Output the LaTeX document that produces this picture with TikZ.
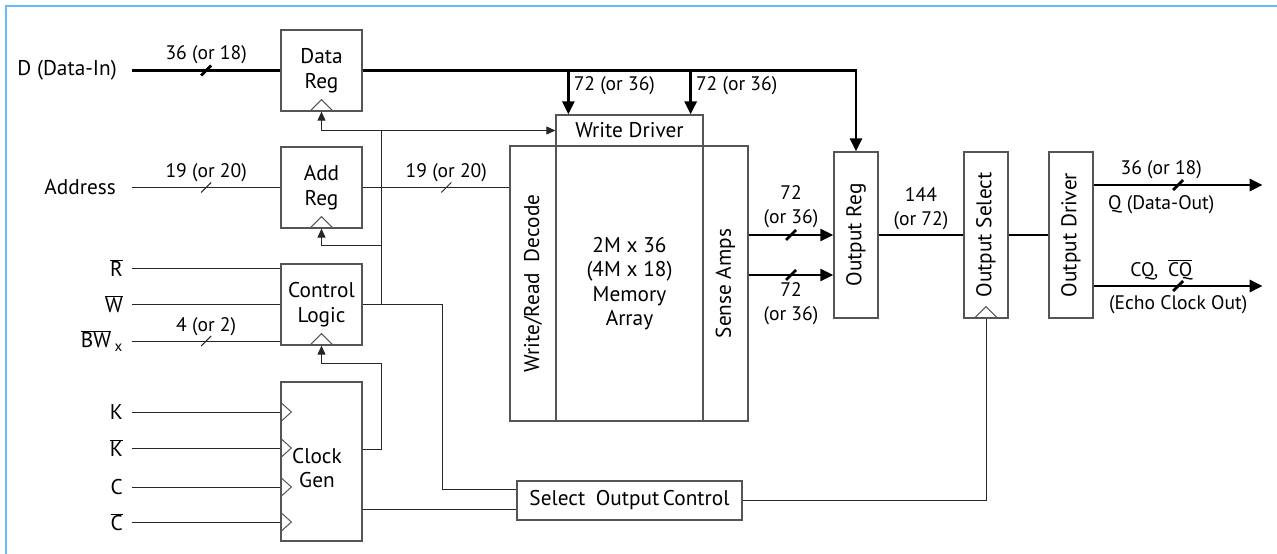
\documentclass[tikz,border=0pt]{standalone}
\usepackage{fontspec}
\setmainfont{PT Sans}
\usepackage{xcolor}
\usepackage{graphicx}
\usetikzlibrary{arrows.meta,decorations.markings}

\definecolor{frameblue}{RGB}{102,187,250}
\definecolor{boxgray}{RGB}{85,85,85}

\newcommand{\ovl}[1]{$\overline{\hbox{#1}}$}

\tikzset{
  blk/.style={draw=boxgray, line width=1.3pt, inner sep=0pt, align=center, font=\fontsize{21.3}{24.5}\selectfont},
  regbox/.style={blk, minimum width=81pt, minimum height=81pt},
  tallbox/.style={blk, minimum width=44pt, minimum height=166pt},
  wire/.style={line width=1pt, draw=black!85},
  bus/.style={line width=2.8pt},
  tip/.style={-{Triangle[length=13pt,width=12pt]}},
  smalltip/.style={-{Triangle[length=9pt,width=8pt]}},
  buswidth/.style={postaction={decorate, decoration={markings, mark=at position #1 with {\draw[-] (-5,5) -- (5,-5);}}}},
  buswidth/.default=0.5,
  wlbl/.style={font=\fontsize{19.6}{24}\selectfont, inner sep=1pt, align=center},
  inlbl/.style={font=\fontsize{21.3}{24}\selectfont, anchor=east, inner sep=0pt}
}

\begin{document}
\begin{tikzpicture}[x=1pt, y=-1pt]
\useasboundingbox (0,0) rectangle (1277,554);
\draw[frameblue, line width=2.5pt] (6,554) -- (6,6) -- (1277,6);

\node[regbox] (dreg) at (321.5,70.5) {Data\\Reg};
\node[regbox] (areg) at (321.5,187.5) {Add\\Reg};
\node[regbox] (ctrl) at (321.5,304.5) {Control\\Logic};
\node[regbox, minimum height=159pt] (cgen) at (321.5,461.5) {};
\node[blk, draw=none] (cgentxt) at (317,468) {Clock\\Gen};

\node[blk, minimum width=147pt, minimum height=31pt] (wdrv) at (629.5,130.5) {Write Driver};
\node[blk, minimum width=46pt, minimum height=275pt] (dec) at (533,283.5) {\rotatebox{90}{Write/Read\enspace Decode}};
\node[blk, minimum width=147pt, minimum height=275pt] (arr) at (629.5,283.5) {2M x 36\\(4M x 18)\\Memory\\Array};
\node[blk, minimum width=45pt, minimum height=275pt] (sense) at (725.5,283.5) {\rotatebox{90}{Sense Amps}};

\node[tallbox] (oreg) at (856,235) {\rotatebox{90}{Output Reg}};
\node[tallbox] (osel) at (986,235) {\rotatebox{90}{Output Select}};
\node[tallbox] (odrv) at (1071,235) {\rotatebox{90}{Output Driver}};
\node[blk, minimum width=225pt, minimum height=39pt] (selc) at (629.5,500.5) {Select\enspace Output\,Control};

\foreach \r in {dreg,areg,ctrl,osel}
  \draw[boxgray, line width=1pt] ([xshift=-12pt]\r.south) -- ([yshift=12pt]\r.south) -- ([xshift=12pt]\r.south);

% data in and write path
\coordinate (din) at (132,70.5);
\node[inlbl] (ldin) at ([xshift=-15pt]din) {D (Data-In)};
\draw[bus, buswidth] (din) -- (din -| dreg.west) node[wlbl, midway, above=4pt] {36 (or 18)};
\draw[bus, tip] (dreg.east) -| (oreg.north);
\coordinate (wd1) at ([xshift=13pt]wdrv.north west);
\coordinate (wd2) at ([xshift=-13pt]wdrv.north east);
\draw[bus, tip] (wd1 |- dreg.east) -- (wd1) node[wlbl, pos=0.35, anchor=west, xshift=3pt] {72 (or 36)};
\draw[bus, tip] (wd2 |- dreg.east) -- (wd2) node[wlbl, pos=0.35, anchor=west, xshift=3pt] {72 (or 36)};

% address
\coordinate (ain) at (132,187.5);
\node[inlbl] (lain) at ([xshift=-16pt]ain) {Address};
\draw[wire, buswidth] (ain) -- (ain -| areg.west) node[wlbl, midway, above=4pt] {19 (or 20)};
\draw[wire, buswidth=0.57] (areg.east) -- (areg.east -| dec.west) node[wlbl, pos=0.57, above=4pt] {19 (or 20)};

% control inputs
\foreach \nm/\yy/\txt in {rin/268/{\ovl{R}}, win/304.5/{\ovl{W}}} {
  \coordinate (\nm) at (132,\yy);
  \node[inlbl] (l\nm) at ([xshift=-9pt]\nm) {\txt};
  \draw[wire] (\nm) -- (\nm -| ctrl.west);
}
\coordinate (bwin) at (132,341);
\node[inlbl] (lbwin) at ([xshift=-9pt]bwin) {\ovl{BW}\,\textsubscript{x}};
\draw[wire, buswidth] (bwin) -- (bwin -| ctrl.west) node[wlbl, midway, above=4pt] {4 (or 2)};

% clock inputs
\foreach \nm/\yy/\txt in {kin/412/K, kbin/448/{\ovl{K}}, cin/487/C, cbin/522/{\ovl{C}}} {
  \coordinate (\nm) at (132,\yy);
  \node[inlbl] (l\nm) at ([xshift=-9pt]\nm) {\txt};
  \draw[wire] (\nm) -- (\nm -| cgen.west);
  \draw[boxgray, line width=1pt] ([yshift=10pt]\nm -| cgen.west) -- ++(11,10) -- ++(-11,10);
}

% clock and control routing
\coordinate (tk) at (381,0);
\draw[wire] (ctrl.east) -| (tk |- wdrv.west);
\draw[wire, smalltip] (tk |- wdrv.west) -- (wdrv.west);
\draw[wire, smalltip] (tk |- wdrv.west) -| (dreg.south);
\draw[wire, smalltip] (tk |- areg.south) ++(0,17) -| (areg.south);
\draw[wire, smalltip] ([yshift=12pt]cgen.east) -- ++(19,0) |- ([yshift=-18pt]ctrl.south) -- (ctrl.south);
\draw[wire] (ctrl.east) -- ++(80,0) |- ([yshift=11pt]selc.west);
\coordinate (cgo) at ([yshift=-48pt]cgen.east);
\draw[wire] (cgo) -- (cgo -| selc.west);
\draw[wire] (selc.east) -| (osel.south);

% read path
\draw[bus, tip, buswidth] (oreg.west -| sense.east) -- (oreg.west) node[wlbl, midway, above=5pt] {72\\(or 36)};
\coordinate (or2) at ([yshift=-40pt]oreg.west);
\draw[bus, tip, buswidth] (or2 -| sense.east) -- (or2) node[wlbl, midway, below=5pt] {72\\(or 36)};
\draw[line width=2.4pt] (oreg.east) -- (osel.west) node[wlbl, midway, above=3pt] {144\\(or 72)};
\draw[bus] (osel.east) -- (odrv.west);

% outputs
\coordinate (qst) at ([yshift=50pt]odrv.east);
\coordinate (qout) at ([xshift=169pt]qst);
\draw[bus, tip, buswidth] (qst) -- (qout) node[wlbl, pos=0.4, above=4pt] {36 (or 18)} node[wlbl, pos=0.4, below=8pt] {Q (Data-Out)};
\coordinate (cqst) at ([yshift=-51pt]odrv.east);
\coordinate (cqout) at ([xshift=169pt]cqst);
\draw[bus, tip, buswidth] (cqst) -- (cqout) node[wlbl, pos=0.4, above=4pt] {CQ,\enspace\ovl{CQ}} node[wlbl, midway, below=7pt] {(Echo Clock Out)};
\end{tikzpicture}
\end{document}
